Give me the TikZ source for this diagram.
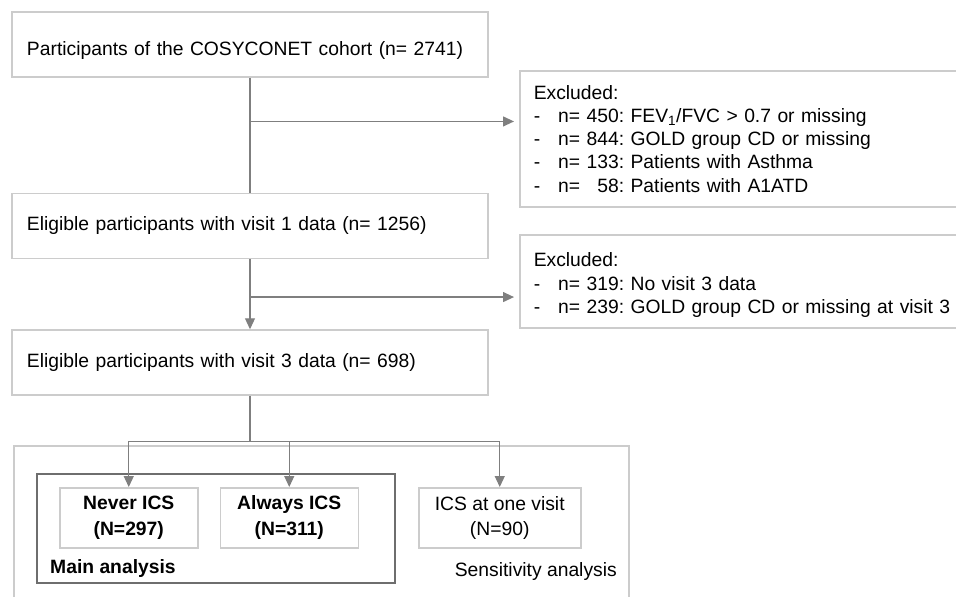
\documentclass[tikz,border=0pt]{standalone}
\usepackage{fontspec}
\setmainfont{Liberation Sans}
\usetikzlibrary{positioning, arrows.meta, calc}

\definecolor{boxgray}{HTML}{CCCCCC}
\definecolor{linegray}{HTML}{7F7F7F}
\definecolor{maingray}{HTML}{6E6E6E}

\tikzset{
  stagebox/.style={rectangle, draw=boxgray, line width=1.5pt, minimum height=65pt, minimum width=476pt, text width=446pt, inner xsep=15pt, align=left},
  excludebox/.style={rectangle, draw=boxgray, line width=1.5pt, minimum width=480pt, text width=452pt, inner xsep=14pt, align=left, anchor=north west},
  groupbox/.style={rectangle, draw=boxgray, line width=1.5pt, minimum height=60pt, align=center, font=\fontsize{19.3}{25.5}\selectfont\bfseries},
  flowline/.style={draw=linegray, line width=1.2pt},
  flow/.style={flowline, -{Triangle[length=11pt, width=10pt]}},
}
\newcommand{\bullethyphen}{-\hspace{18pt}}

\begin{document}
\frenchspacing
\begin{tikzpicture}[x=1pt, y=-1pt, font=\fontsize{19.3}{23.3}\selectfont]
		\clip (0,0) rectangle (956,597);
		\node (cohort)[stagebox, text height=24pt, text depth=1.5pt] at (250,44.5) {Participants of the COSYCONET cohort (n= 2741)};
		\node (visitOne)[stagebox, below=115pt of cohort] {Eligible participants with visit 1 data (n= 1256)};
		\node (visitThree)[stagebox, below=70pt of visitOne] {Eligible participants with visit 3 data (n= 698)};
		\node (excludedOne)[excludebox, minimum height=136pt] at (519,70) {Excluded:\\
			\bullethyphen n= 450: FEV\textsubscript{1}/FVC > 0.7 or missing\\
			\bullethyphen n= 844: GOLD group CD or missing\\
			\bullethyphen n= 133: Patients with Asthma\\
			\bullethyphen n= \phantom{0}58: Patients with A1ATD};
		\node (excludedTwo)[excludebox, minimum height=93pt, text height=22pt] at (519,234) {Excluded:\\
			\bullethyphen n= 319: No visit 3 data\\
			\bullethyphen n= 239: GOLD group CD or missing at visit 3};

		\node (sensBox)[rectangle, draw=boxgray, line width=1.5pt, minimum width=615pt, minimum height=200pt, anchor=north west] at (13,445) {};
		\node (mainBox)[rectangle, draw=maingray, line width=2pt, minimum width=358pt, minimum height=109pt, anchor=north west] at (36,473) {};
		\node (neverICS)[groupbox, minimum width=138pt, anchor=north west] at (59,487) {Never ICS\\(N=297)};
		\node (alwaysICS)[groupbox, minimum width=138pt, right=21pt of neverICS] {Always ICS\\(N=311)};
		\node (oneVisit)[groupbox, minimum width=162pt, right=59pt of alwaysICS, font=\fontsize{19.3}{25.5}\selectfont] {ICS at one visit\\(N=90)};
		\node (mainText)[anchor=west, inner sep=0pt] at (50,568.5) {\bfseries Main analysis};
		\node (sensText)[anchor=east, inner sep=0pt] at (617,572) {Sensitivity analysis};

		\coordinate (splitOne) at ($(cohort.south)!0.38!(visitOne.north)$);
		\coordinate (splitTwo) at ($(visitOne.south)!0.54!(visitThree.north)$);
		\coordinate (splitThree) at ($(visitThree.south)+(0,46)$);

		\draw[flowline] (cohort) -- (visitOne);
		\draw[flow, shorten >=5pt] (splitOne) -- (splitOne -| excludedOne.west);
		\draw[flow] (visitOne) -- (visitThree);
		\draw[flow, shorten >=5pt] (splitTwo) -- (splitTwo -| excludedTwo.west);
		\draw[flowline] (visitThree) -- (splitThree);
		\draw[flow] (splitThree) -| (neverICS);
		\draw[flow] (splitThree) -| (alwaysICS);
		\draw[flow] (splitThree) -| (oneVisit);
	\end{tikzpicture}
\end{document}
